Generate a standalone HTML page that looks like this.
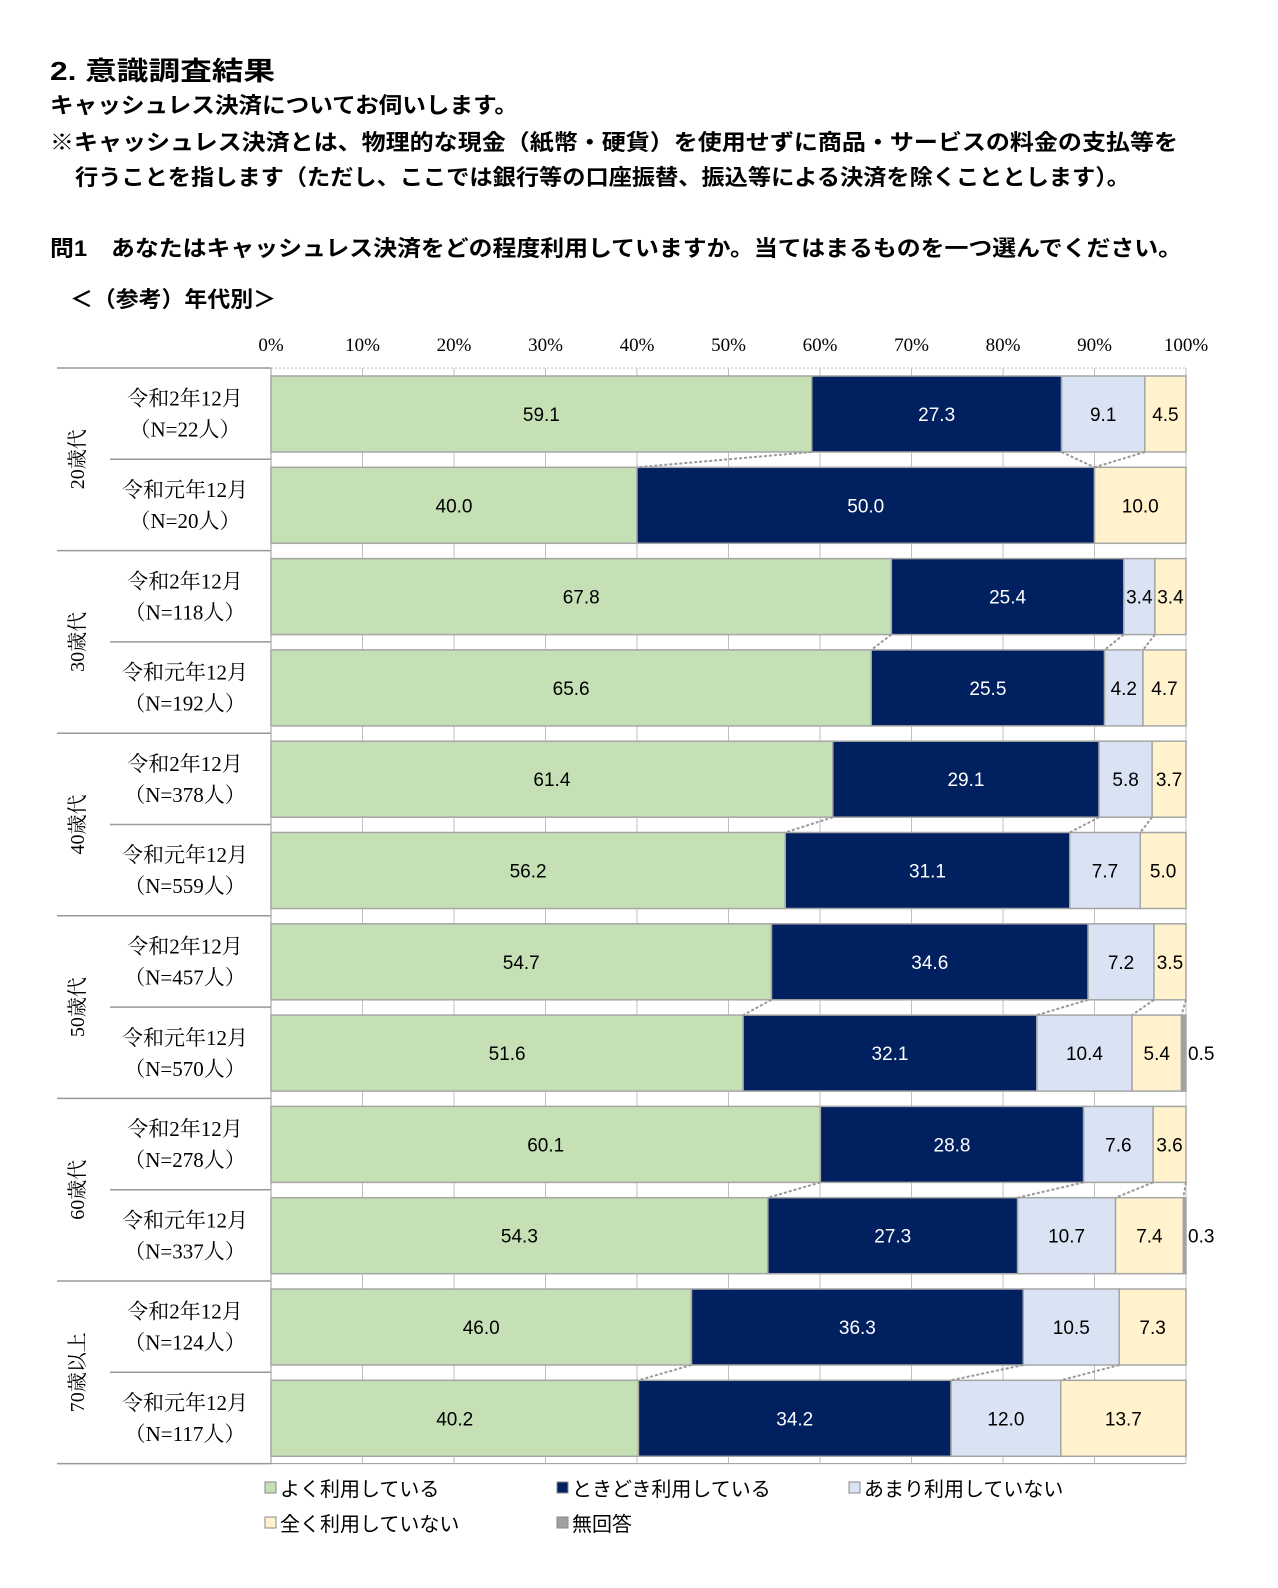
<!DOCTYPE html>
<html><head><meta charset="utf-8"><style>
body{margin:0;background:#fff;}
svg{display:block;}
.h{font-family:"Liberation Sans","Noto Sans CJK JP",sans-serif;font-weight:bold;fill:#000;}
.s{font-family:"Liberation Serif","Noto Serif CJK SC",serif;fill:#000;}
.v{font-family:"Liberation Sans","Noto Sans CJK JP",sans-serif;font-size:19px;}
.lg{font-family:"Liberation Sans","Noto Sans CJK JP",sans-serif;font-size:20px;fill:#000;}
</style></head><body>
<svg id="chart" width="1278" height="1588" viewBox="0 0 1278 1588" xmlns="http://www.w3.org/2000/svg">
<text class="h" x="50" y="80" font-size="26" textLength="225" lengthAdjust="spacingAndGlyphs">2. 意識調査結果</text>
<text class="h" x="50" y="113" font-size="22" textLength="468" lengthAdjust="spacingAndGlyphs">キャッシュレス決済についてお伺いします。</text>
<text class="h" x="50" y="150" font-size="22" textLength="1128" lengthAdjust="spacingAndGlyphs">※キャッシュレス決済とは、物理的な現金（紙幣・硬貨）を使用せずに商品・サービスの料金の支払等を</text>
<text class="h" x="75" y="185" font-size="22" textLength="1055" lengthAdjust="spacingAndGlyphs">行うことを指します（ただし、ここでは銀行等の口座振替、振込等による決済を除くこととします）。</text>
<text class="h" x="50" y="256" font-size="22" textLength="1132" lengthAdjust="spacingAndGlyphs">問1　あなたはキャッシュレス決済をどの程度利用していますか。当てはまるものを一つ選んでください。</text>
<text class="h" x="70" y="307" font-size="22" textLength="206" lengthAdjust="spacingAndGlyphs">＜（参考）年代別＞</text>
<g id="plot"></g>
</svg>
<script>
const groups=["20歳代","30歳代","40歳代","50歳代","60歳代","70歳以上"];
const rowLabels=["令和2年12月","令和元年12月"];
const sampleSizes=[["22","20"],["118","192"],["378","559"],["457","570"],["278","337"],["124","117"]];
const seriesNames=["よく利用している","ときどき利用している","あまり利用していない","全く利用していない","無回答"];
const often=[59.1,40.0,67.8,65.6,61.4,56.2,54.7,51.6,60.1,54.3,46.0,40.2];
const sometimes=[27.3,50.0,25.4,25.5,29.1,31.1,34.6,32.1,28.8,27.3,36.3,34.2];
const rarely=[9.1,0,3.4,4.2,5.8,7.7,7.2,10.4,7.6,10.7,10.5,12.0];
const never=[4.5,10.0,3.4,4.7,3.7,5.0,3.5,5.4,3.6,7.4,7.3,13.7];
const noAnswer=[0,0,0,0,0,0,0,0.5,0,0.3,0,0];
const ticks=[0,10,20,30,40,50,60,70,80,90,100];

const colors=["#c5e0b4","#002060","#dae3f3","#fff2cc","#a0a0a0"];
const textCol=["#000","#fff","#000","#000","#000"];
const series=[often,sometimes,rarely,never,noAnswer];
const X0=271,X1=1186,TOP=368,PITCH=91.3,BH=76,BOFF=8;
const xs=v=>X0+(X1-X0)*v/100;
const rowY=i=>TOP+BOFF+i*PITCH;
const NS="http://www.w3.org/2000/svg";
const g=document.getElementById('plot');
function mk(t,a,p){const e=document.createElementNS(NS,t);for(const k in a)e.setAttribute(k,a[k]);(p||g).appendChild(e);return e;}
const nRows=often.length, BOT=TOP+nRows*PITCH;
// grid
ticks.forEach(t=>{
  const l=mk('line',{x1:xs(t),x2:xs(t),y1:TOP,y2:BOT,stroke:'#bfbfbf','stroke-width':1});
  
  
  const tx=mk('text',{x:xs(t),y:351,'text-anchor':'middle','font-size':19,class:'s'});
  
  
  tx.textContent=t+'%';
});
mk('line',{x1:X0,x2:X1,y1:TOP,y2:TOP,stroke:'#bfbfbf','stroke-dasharray':'2,2'});
mk('line',{x1:X0,x2:X0,y1:TOP,y2:BOT,stroke:'#999'});
// bars
const cums=[];
for(let i=0;i<nRows;i++){
  const vals=series.map(s=>s[i]);
  const tot=vals.reduce((a,b)=>a+b,0);
  let c=0;const cum=[];
  vals.forEach((v,k)=>{
    const a=c/tot*100;c+=v;const b=c/tot*100;cum.push(b);
    if(v<=0)return;
    const r=mk('rect',{x:xs(a),y:rowY(i),width:xs(b)-xs(a),height:BH,fill:colors[k],stroke:'#a6a6a6','stroke-width':1.5});
    
    
    const t=mk('text',{class:'v',y:rowY(i)+BH/2+7,fill:textCol[k],'text-anchor':'middle'});
    
    
    if(k===4){t.setAttribute('x',xs(100)+2);t.setAttribute('text-anchor','start');}
    else t.setAttribute('x',(xs(a)+xs(b))/2);
    t.textContent=v.toFixed(1);
  });
  cums.push(cum);
}
// connectors
for(let gi=0;gi<groups.length;gi++){
  const i=gi*2;
  for(let k=0;k<4;k++){
    const a=cums[i][k],b=cums[i+1][k];
    if(a>=99.99&&b>=99.99)continue;
    const l=mk('line',{x1:xs(a),y1:rowY(i)+BH,x2:xs(b),y2:rowY(i+1),stroke:'#999','stroke-width':2,'stroke-dasharray':'3,2'});
    
    
  }
}
// left labels
for(let gi=0;gi<=groups.length;gi++){
  mk('line',{x1:57,x2:X0,y1:TOP+gi*2*PITCH,y2:TOP+gi*2*PITCH,stroke:'#999','stroke-width':1.5});
}
groups.forEach((gn,gi)=>{
  const yMid=TOP+gi*2*PITCH+PITCH;
  mk('line',{x1:110,x2:X0,y1:yMid,y2:yMid,stroke:'#999','stroke-width':1.5});
  const t=mk('text',{class:'s','font-size':20,'text-anchor':'middle',transform:`translate(84 ${yMid}) rotate(-90)`});
  
  
  t.textContent=gn;
  for(let r=0;r<2;r++){
    const cy=TOP+(gi*2+r)*PITCH+PITCH/2;
    const a=mk('text',{class:'s','font-size':21,x:185,y:cy-8,'text-anchor':'middle'});
    
    
    a.textContent=rowLabels[r];
    const b=mk('text',{class:'s','font-size':21,x:185,y:cy+23,'text-anchor':'middle'});
    
    
    b.textContent='（N='+sampleSizes[gi][r]+'人）';
  }
});
// bottom axis
mk('line',{x1:X0,x2:X1,y1:BOT,y2:BOT,stroke:'#999'});
// legend
const lgPos=[[265,1496],[557,1496],[849,1496],[265,1531],[557,1531]];
seriesNames.forEach((n,k)=>{
  const [x,y]=lgPos[k];
  const r=mk('rect',{x:x,y:y-14,width:11,height:11,fill:colors[k],stroke:'#888'});
  
  
  const t=mk('text',{class:'lg',x:x+15,y:y});
  
  
  t.textContent=n;
});
</script>
</body></html>
